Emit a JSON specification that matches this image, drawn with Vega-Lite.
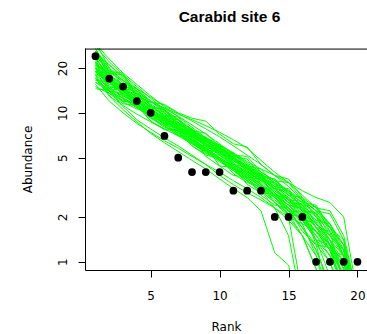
{
"$schema": "https://vega.github.io/schema/vega-lite/v6.json",
"autosize": {"type": "none"},
"padding": {"left": 85, "top": 48, "right": 0, "bottom": 64},
"width": 282,
"height": 222,
"title": {"text": "Carabid site 6", "font": "Liberation Sans", "fontSize": 15.5, "fontWeight": "bold", "color": "black", "anchor": "middle", "baseline": "alphabetic", "offset": 11, "dx": 3.5},
"config": {"view": {"stroke": null}, "axis": {"grid": false}},
"datasets": {
"obs": [
{"r":1,"v":24},{"r":2,"v":17},{"r":3,"v":15},{"r":4,"v":12},{"r":5,"v":10},{"r":6,"v":7},{"r":7,"v":5},{"r":8,"v":4},{"r":9,"v":4},{"r":10,"v":4},{"r":11,"v":3},{"r":12,"v":3},{"r":13,"v":3},{"r":14,"v":2},{"r":15,"v":2},{"r":16,"v":2},{"r":17,"v":1},{"r":18,"v":1},{"r":19,"v":1},{"r":20,"v":1}
],
"sims": [
{"s":1,"r":1,"v":27},{"s":1,"r":2,"v":19},{"s":1,"r":3,"v":18.5},{"s":1,"r":4,"v":13},{"s":1,"r":5,"v":11},{"s":1,"r":6,"v":10.5},{"s":1,"r":7,"v":8.2},{"s":1,"r":8,"v":7},{"s":1,"r":9,"v":6.8},{"s":1,"r":10,"v":5.2},{"s":1,"r":11,"v":4.5},{"s":1,"r":12,"v":4.3},{"s":1,"r":13,"v":3.3},{"s":1,"r":14,"v":2.8},{"s":1,"r":15,"v":2.7},{"s":1,"r":16,"v":1.9},{"s":1,"r":17,"v":1.4},{"s":1,"r":18,"v":1.3},{"s":1,"r":19,"v":0.6},{"s":1,"r":20,"v":0.2},
{"s":2,"r":1,"v":22},{"s":2,"r":2,"v":17},{"s":2,"r":3,"v":14},{"s":2,"r":4,"v":13.5},{"s":2,"r":5,"v":10.5},{"s":2,"r":6,"v":9.2},{"s":2,"r":7,"v":8},{"s":2,"r":8,"v":7},{"s":2,"r":9,"v":6.2},{"s":2,"r":10,"v":5.4},{"s":2,"r":11,"v":4.8},{"s":2,"r":12,"v":4.2},{"s":2,"r":13,"v":3.6},{"s":2,"r":14,"v":3.1},{"s":2,"r":15,"v":2.6},{"s":2,"r":16,"v":2.1},{"s":2,"r":17,"v":1.6},{"s":2,"r":18,"v":1.2},{"s":2,"r":19,"v":0.8},{"s":2,"r":20,"v":0.3},
{"s":3,"r":1,"v":18},{"s":3,"r":2,"v":17.5},{"s":3,"r":3,"v":13},{"s":3,"r":4,"v":11.5},{"s":3,"r":5,"v":11},{"s":3,"r":6,"v":8.8},{"s":3,"r":7,"v":7.6},{"s":3,"r":8,"v":7.4},{"s":3,"r":9,"v":6},{"s":3,"r":10,"v":5.3},{"s":3,"r":11,"v":5.1},{"s":3,"r":12,"v":4},{"s":3,"r":13,"v":3.5},{"s":3,"r":14,"v":3.4},{"s":3,"r":15,"v":2.6},{"s":3,"r":16,"v":2.2},{"s":3,"r":17,"v":2.1},{"s":3,"r":18,"v":1.3},{"s":3,"r":19,"v":0.9},{"s":3,"r":20,"v":0.4},
{"s":4,"r":1,"v":30},{"s":4,"r":2,"v":20},{"s":4,"r":3,"v":15},{"s":4,"r":4,"v":12},{"s":4,"r":5,"v":10},{"s":4,"r":6,"v":8.5},{"s":4,"r":7,"v":7.2},{"s":4,"r":8,"v":6.3},{"s":4,"r":9,"v":5.5},{"s":4,"r":10,"v":4.8},{"s":4,"r":11,"v":4.2},{"s":4,"r":12,"v":3.6},{"s":4,"r":13,"v":3.1},{"s":4,"r":14,"v":2.6},{"s":4,"r":15,"v":2.2},{"s":4,"r":16,"v":1.7},{"s":4,"r":17,"v":1.2},{"s":4,"r":18,"v":0.7},{"s":4,"r":19,"v":0.3},{"s":4,"r":20,"v":0.1},
{"s":5,"r":1,"v":15},{"s":5,"r":2,"v":13.5},{"s":5,"r":3,"v":12},{"s":5,"r":4,"v":11.5},{"s":5,"r":5,"v":9.2},{"s":5,"r":6,"v":8.9},{"s":5,"r":7,"v":8.6},{"s":5,"r":8,"v":7},{"s":5,"r":9,"v":6.4},{"s":5,"r":10,"v":6.1},{"s":5,"r":11,"v":5},{"s":5,"r":12,"v":4.4},{"s":5,"r":13,"v":4.2},{"s":5,"r":14,"v":3.3},{"s":5,"r":15,"v":2.8},{"s":5,"r":16,"v":2.7},{"s":5,"r":17,"v":2},{"s":5,"r":18,"v":1.6},{"s":5,"r":19,"v":1.1},{"s":5,"r":20,"v":0.5},
{"s":6,"r":1,"v":24},{"s":6,"r":2,"v":16},{"s":6,"r":3,"v":13.5},{"s":6,"r":4,"v":11.5},{"s":6,"r":5,"v":10},{"s":6,"r":6,"v":8.7},{"s":6,"r":7,"v":7.5},{"s":6,"r":8,"v":6.5},{"s":6,"r":9,"v":5.8},{"s":6,"r":10,"v":5},{"s":6,"r":11,"v":4.4},{"s":6,"r":12,"v":3.8},{"s":6,"r":13,"v":3.2},{"s":6,"r":14,"v":2.7},{"s":6,"r":15,"v":2.1},{"s":6,"r":16,"v":1.5},{"s":6,"r":17,"v":0.9},{"s":6,"r":18,"v":0.4},{"s":6,"r":19,"v":0.2},{"s":6,"r":20,"v":0.1},
{"s":7,"r":1,"v":20},{"s":7,"r":2,"v":15.5},{"s":7,"r":3,"v":15},{"s":7,"r":4,"v":11.2},{"s":7,"r":5,"v":9.6},{"s":7,"r":6,"v":8.4},{"s":7,"r":7,"v":8.2},{"s":7,"r":8,"v":6.5},{"s":7,"r":9,"v":5.6},{"s":7,"r":10,"v":5.4},{"s":7,"r":11,"v":4.3},{"s":7,"r":12,"v":3.7},{"s":7,"r":13,"v":3.6},{"s":7,"r":14,"v":2.8},{"s":7,"r":15,"v":2.4},{"s":7,"r":16,"v":2.3},{"s":7,"r":17,"v":1.7},{"s":7,"r":18,"v":1.4},{"s":7,"r":19,"v":1.1},{"s":7,"r":20,"v":0.5},
{"s":8,"r":1,"v":26},{"s":8,"r":2,"v":21},{"s":8,"r":3,"v":17},{"s":8,"r":4,"v":14},{"s":8,"r":5,"v":12},{"s":8,"r":6,"v":10.5},{"s":8,"r":7,"v":9},{"s":8,"r":8,"v":7.8},{"s":8,"r":9,"v":6.7},{"s":8,"r":10,"v":5.8},{"s":8,"r":11,"v":5},{"s":8,"r":12,"v":4.3},{"s":8,"r":13,"v":3.7},{"s":8,"r":14,"v":3.1},{"s":8,"r":15,"v":2.5},{"s":8,"r":16,"v":2},{"s":8,"r":17,"v":1.4},{"s":8,"r":18,"v":0.8},{"s":8,"r":19,"v":0.3},{"s":8,"r":20,"v":0.1},
{"s":9,"r":1,"v":17},{"s":9,"r":2,"v":14},{"s":9,"r":3,"v":13.5},{"s":9,"r":4,"v":11},{"s":9,"r":5,"v":9.5},{"s":9,"r":6,"v":9.2},{"s":9,"r":7,"v":7.6},{"s":9,"r":8,"v":7.3},{"s":9,"r":9,"v":6.2},{"s":9,"r":10,"v":5.5},{"s":9,"r":11,"v":5.3},{"s":9,"r":12,"v":4.3},{"s":9,"r":13,"v":3.8},{"s":9,"r":14,"v":3.6},{"s":9,"r":15,"v":2.9},{"s":9,"r":16,"v":2.5},{"s":9,"r":17,"v":2.4},{"s":9,"r":18,"v":1.7},{"s":9,"r":19,"v":1.3},{"s":9,"r":20,"v":0.6},
{"s":10,"r":1,"v":21},{"s":10,"r":2,"v":18},{"s":10,"r":3,"v":15},{"s":10,"r":4,"v":12.5},{"s":10,"r":5,"v":10.5},{"s":10,"r":6,"v":9},{"s":10,"r":7,"v":7.8},{"s":10,"r":8,"v":6.7},{"s":10,"r":9,"v":5.8},{"s":10,"r":10,"v":5},{"s":10,"r":11,"v":4.3},{"s":10,"r":12,"v":3.7},{"s":10,"r":13,"v":3.2},{"s":10,"r":14,"v":2.7},{"s":10,"r":15,"v":2.2},{"s":10,"r":16,"v":1.7},{"s":10,"r":17,"v":1.2},{"s":10,"r":18,"v":0.7},{"s":10,"r":19,"v":0.3},{"s":10,"r":20,"v":0.1},
{"s":11,"r":1,"v":19},{"s":11,"r":2,"v":14},{"s":11,"r":3,"v":12},{"s":11,"r":4,"v":11.8},{"s":11,"r":5,"v":9.2},{"s":11,"r":6,"v":8.2},{"s":11,"r":7,"v":8},{"s":11,"r":8,"v":6.5},{"s":11,"r":9,"v":5.8},{"s":11,"r":10,"v":5.7},{"s":11,"r":11,"v":4.5},{"s":11,"r":12,"v":4},{"s":11,"r":13,"v":3.9},{"s":11,"r":14,"v":3},{"s":11,"r":15,"v":2.5},{"s":11,"r":16,"v":2.4},{"s":11,"r":17,"v":1.7},{"s":11,"r":18,"v":1.3},{"s":11,"r":19,"v":0.8},{"s":11,"r":20,"v":0.3},
{"s":12,"r":1,"v":28},{"s":12,"r":2,"v":22},{"s":12,"r":3,"v":18},{"s":12,"r":4,"v":15},{"s":12,"r":5,"v":12.5},{"s":12,"r":6,"v":10.5},{"s":12,"r":7,"v":9},{"s":12,"r":8,"v":7.7},{"s":12,"r":9,"v":6.6},{"s":12,"r":10,"v":5.6},{"s":12,"r":11,"v":4.8},{"s":12,"r":12,"v":4.1},{"s":12,"r":13,"v":3.5},{"s":12,"r":14,"v":2.9},{"s":12,"r":15,"v":2.4},{"s":12,"r":16,"v":1.9},{"s":12,"r":17,"v":1.4},{"s":12,"r":18,"v":1},{"s":12,"r":19,"v":0.5},{"s":12,"r":20,"v":0.2},
{"s":13,"r":1,"v":16},{"s":13,"r":2,"v":14.5},{"s":13,"r":3,"v":13},{"s":13,"r":4,"v":11.8},{"s":13,"r":5,"v":10.5},{"s":13,"r":6,"v":9.4},{"s":13,"r":7,"v":8.4},{"s":13,"r":8,"v":7.5},{"s":13,"r":9,"v":6.7},{"s":13,"r":10,"v":6},{"s":13,"r":11,"v":5.3},{"s":13,"r":12,"v":4.6},{"s":13,"r":13,"v":4},{"s":13,"r":14,"v":3.5},{"s":13,"r":15,"v":3},{"s":13,"r":16,"v":2.6},{"s":13,"r":17,"v":2.2},{"s":13,"r":18,"v":1.8},{"s":13,"r":19,"v":1.3},{"s":13,"r":20,"v":0.5},
{"s":14,"r":1,"v":23},{"s":14,"r":2,"v":17.5},{"s":14,"r":3,"v":14.5},{"s":14,"r":4,"v":14},{"s":14,"r":5,"v":10.6},{"s":14,"r":6,"v":9.2},{"s":14,"r":7,"v":9},{"s":14,"r":8,"v":7},{"s":14,"r":9,"v":6.1},{"s":14,"r":10,"v":6},{"s":14,"r":11,"v":4.6},{"s":14,"r":12,"v":4},{"s":14,"r":13,"v":3.9},{"s":14,"r":14,"v":2.9},{"s":14,"r":15,"v":2.4},{"s":14,"r":16,"v":2.3},{"s":14,"r":17,"v":1.3},{"s":14,"r":18,"v":0.6},{"s":14,"r":19,"v":0.2},{"s":14,"r":20,"v":0.1},
{"s":15,"r":1,"v":20},{"s":15,"r":2,"v":16.5},{"s":15,"r":3,"v":14},{"s":15,"r":4,"v":12},{"s":15,"r":5,"v":10.3},{"s":15,"r":6,"v":8.9},{"s":15,"r":7,"v":7.7},{"s":15,"r":8,"v":6.6},{"s":15,"r":9,"v":5.7},{"s":15,"r":10,"v":4.9},{"s":15,"r":11,"v":4.2},{"s":15,"r":12,"v":3.6},{"s":15,"r":13,"v":3.1},{"s":15,"r":14,"v":2.7},{"s":15,"r":15,"v":2.3},{"s":15,"r":16,"v":1.9},{"s":15,"r":17,"v":1.6},{"s":15,"r":18,"v":1.3},{"s":15,"r":19,"v":1},{"s":15,"r":20,"v":0.4},
{"s":16,"r":1,"v":25},{"s":16,"r":2,"v":18},{"s":16,"r":3,"v":14},{"s":16,"r":4,"v":11.5},{"s":16,"r":5,"v":9.8},{"s":16,"r":6,"v":8.4},{"s":16,"r":7,"v":7.3},{"s":16,"r":8,"v":6.4},{"s":16,"r":9,"v":5.6},{"s":16,"r":10,"v":4.9},{"s":16,"r":11,"v":4.3},{"s":16,"r":12,"v":3.8},{"s":16,"r":13,"v":3.3},{"s":16,"r":14,"v":2.8},{"s":16,"r":15,"v":2.4},{"s":16,"r":16,"v":2},{"s":16,"r":17,"v":1.6},{"s":16,"r":18,"v":1.2},{"s":16,"r":19,"v":0.7},{"s":16,"r":20,"v":0.3},
{"s":17,"r":1,"v":18.5},{"s":17,"r":2,"v":16},{"s":17,"r":3,"v":15.5},{"s":17,"r":4,"v":12.5},{"s":17,"r":5,"v":11},{"s":17,"r":6,"v":10.5},{"s":17,"r":7,"v":8.6},{"s":17,"r":8,"v":7.6},{"s":17,"r":9,"v":7.3},{"s":17,"r":10,"v":5.9},{"s":17,"r":11,"v":5.1},{"s":17,"r":12,"v":4.9},{"s":17,"r":13,"v":3.8},{"s":17,"r":14,"v":3.2},{"s":17,"r":15,"v":3.1},{"s":17,"r":16,"v":2.2},{"s":17,"r":17,"v":1.7},{"s":17,"r":18,"v":1.6},{"s":17,"r":19,"v":0.7},{"s":17,"r":20,"v":0.3},
{"s":18,"r":1,"v":22},{"s":18,"r":2,"v":15},{"s":18,"r":3,"v":12.5},{"s":18,"r":4,"v":10.8},{"s":18,"r":5,"v":9.4},{"s":18,"r":6,"v":8.2},{"s":18,"r":7,"v":7.1},{"s":18,"r":8,"v":6.2},{"s":18,"r":9,"v":5.4},{"s":18,"r":10,"v":4.7},{"s":18,"r":11,"v":4.1},{"s":18,"r":12,"v":3.5},{"s":18,"r":13,"v":3},{"s":18,"r":14,"v":2.5},{"s":18,"r":15,"v":2.1},{"s":18,"r":16,"v":1.7},{"s":18,"r":17,"v":1.3},{"s":18,"r":18,"v":1},{"s":18,"r":19,"v":0.6},{"s":18,"r":20,"v":0.2},
{"s":19,"r":1,"v":14.5},{"s":19,"r":2,"v":14.2},{"s":19,"r":3,"v":11.8},{"s":19,"r":4,"v":10.6},{"s":19,"r":5,"v":10.4},{"s":19,"r":6,"v":8.6},{"s":19,"r":7,"v":7.8},{"s":19,"r":8,"v":7.7},{"s":19,"r":9,"v":6.2},{"s":19,"r":10,"v":5.5},{"s":19,"r":11,"v":5.4},{"s":19,"r":12,"v":4.2},{"s":19,"r":13,"v":3.7},{"s":19,"r":14,"v":3.6},{"s":19,"r":15,"v":2.8},{"s":19,"r":16,"v":2.4},{"s":19,"r":17,"v":2.35},{"s":19,"r":18,"v":1.6},{"s":19,"r":19,"v":1.2},{"s":19,"r":20,"v":0.5},
{"s":20,"r":1,"v":29},{"s":20,"r":2,"v":23},{"s":20,"r":3,"v":18.5},{"s":20,"r":4,"v":15.5},{"s":20,"r":5,"v":13},{"s":20,"r":6,"v":11},{"s":20,"r":7,"v":9.4},{"s":20,"r":8,"v":8},{"s":20,"r":9,"v":6.8},{"s":20,"r":10,"v":5.8},{"s":20,"r":11,"v":4.9},{"s":20,"r":12,"v":4.1},{"s":20,"r":13,"v":3.4},{"s":20,"r":14,"v":2.8},{"s":20,"r":15,"v":2.0},{"s":20,"r":16,"v":0.6},{"s":20,"r":17,"v":0.3},{"s":20,"r":18,"v":0.2},{"s":20,"r":19,"v":0.1},{"s":20,"r":20,"v":0.1},
{"s":21,"r":1,"v":21},{"s":21,"r":2,"v":16},{"s":21,"r":3,"v":13.5},{"s":21,"r":4,"v":11.8},{"s":21,"r":5,"v":10.4},{"s":21,"r":6,"v":9.2},{"s":21,"r":7,"v":8.1},{"s":21,"r":8,"v":7.2},{"s":21,"r":9,"v":6.4},{"s":21,"r":10,"v":5.7},{"s":21,"r":11,"v":5},{"s":21,"r":12,"v":4.4},{"s":21,"r":13,"v":3.9},{"s":21,"r":14,"v":3.4},{"s":21,"r":15,"v":2.9},{"s":21,"r":16,"v":2.5},{"s":21,"r":17,"v":2.1},{"s":21,"r":18,"v":1.7},{"s":21,"r":19,"v":1.3},{"s":21,"r":20,"v":0.5},
{"s":22,"r":1,"v":19.5},{"s":22,"r":2,"v":17},{"s":22,"r":3,"v":15},{"s":22,"r":4,"v":14.6},{"s":22,"r":5,"v":11.2},{"s":22,"r":6,"v":9.6},{"s":22,"r":7,"v":9.4},{"s":22,"r":8,"v":7},{"s":22,"r":9,"v":6},{"s":22,"r":10,"v":5.9},{"s":22,"r":11,"v":4.4},{"s":22,"r":12,"v":3.8},{"s":22,"r":13,"v":3.7},{"s":22,"r":14,"v":2.7},{"s":22,"r":15,"v":2.2},{"s":22,"r":16,"v":2.15},{"s":22,"r":17,"v":1.4},{"s":22,"r":18,"v":1.1},{"s":22,"r":19,"v":0.7},{"s":22,"r":20,"v":0.2},
{"s":23,"r":1,"v":24},{"s":23,"r":2,"v":19},{"s":23,"r":3,"v":16},{"s":23,"r":4,"v":13.5},{"s":23,"r":5,"v":11.3},{"s":23,"r":6,"v":9.5},{"s":23,"r":7,"v":8},{"s":23,"r":8,"v":6.8},{"s":23,"r":9,"v":5.8},{"s":23,"r":10,"v":5},{"s":23,"r":11,"v":4.3},{"s":23,"r":12,"v":3.7},{"s":23,"r":13,"v":3.2},{"s":23,"r":14,"v":2.8},{"s":23,"r":15,"v":2.4},{"s":23,"r":16,"v":2},{"s":23,"r":17,"v":1.6},{"s":23,"r":18,"v":1.2},{"s":23,"r":19,"v":0.8},{"s":23,"r":20,"v":0.3},
{"s":24,"r":1,"v":17.5},{"s":24,"r":2,"v":13.5},{"s":24,"r":3,"v":11.5},{"s":24,"r":4,"v":11.2},{"s":24,"r":5,"v":8.8},{"s":24,"r":6,"v":7.8},{"s":24,"r":7,"v":7.7},{"s":24,"r":8,"v":6.3},{"s":24,"r":9,"v":5.6},{"s":24,"r":10,"v":5.5},{"s":24,"r":11,"v":4.4},{"s":24,"r":12,"v":3.9},{"s":24,"r":13,"v":3.8},{"s":24,"r":14,"v":3},{"s":24,"r":15,"v":2.6},{"s":24,"r":16,"v":2.55},{"s":24,"r":17,"v":1.8},{"s":24,"r":18,"v":1.4},{"s":24,"r":19,"v":1},{"s":24,"r":20,"v":0.4},
{"s":25,"r":1,"v":26},{"s":25,"r":2,"v":20},{"s":25,"r":3,"v":16.5},{"s":25,"r":4,"v":13.5},{"s":25,"r":5,"v":11.2},{"s":25,"r":6,"v":9.4},{"s":25,"r":7,"v":8},{"s":25,"r":8,"v":6.9},{"s":25,"r":9,"v":6},{"s":25,"r":10,"v":5.2},{"s":25,"r":11,"v":4.5},{"s":25,"r":12,"v":3.9},{"s":25,"r":13,"v":3.3},{"s":25,"r":14,"v":2.8},{"s":25,"r":15,"v":2.3},{"s":25,"r":16,"v":1.8},{"s":25,"r":17,"v":1.1},{"s":25,"r":18,"v":0.5},{"s":25,"r":19,"v":0.2},{"s":25,"r":20,"v":0.1},
{"s":26,"r":1,"v":20.5},{"s":26,"r":2,"v":15},{"s":26,"r":3,"v":14.2},{"s":26,"r":4,"v":11},{"s":26,"r":5,"v":9.7},{"s":26,"r":6,"v":9.3},{"s":26,"r":7,"v":7.7},{"s":26,"r":8,"v":6.9},{"s":26,"r":9,"v":6.7},{"s":26,"r":10,"v":5.4},{"s":26,"r":11,"v":4.7},{"s":26,"r":12,"v":4.5},{"s":26,"r":13,"v":3.6},{"s":26,"r":14,"v":3.1},{"s":26,"r":15,"v":3},{"s":26,"r":16,"v":2.3},{"s":26,"r":17,"v":1.9},{"s":26,"r":18,"v":1.8},{"s":26,"r":19,"v":1.1},{"s":26,"r":20,"v":0.4},
{"s":27,"r":1,"v":23},{"s":27,"r":2,"v":18},{"s":27,"r":3,"v":15.5},{"s":27,"r":4,"v":13.3},{"s":27,"r":5,"v":11.5},{"s":27,"r":6,"v":9.9},{"s":27,"r":7,"v":8.5},{"s":27,"r":8,"v":7.3},{"s":27,"r":9,"v":6.3},{"s":27,"r":10,"v":5.4},{"s":27,"r":11,"v":4.6},{"s":27,"r":12,"v":3.9},{"s":27,"r":13,"v":3.3},{"s":27,"r":14,"v":2.8},{"s":27,"r":15,"v":2.3},{"s":27,"r":16,"v":1.9},{"s":27,"r":17,"v":1.5},{"s":27,"r":18,"v":1.1},{"s":27,"r":19,"v":0.7},{"s":27,"r":20,"v":0.2},
{"s":28,"r":1,"v":16.5},{"s":28,"r":2,"v":16.2},{"s":28,"r":3,"v":12.3},{"s":28,"r":4,"v":10.9},{"s":28,"r":5,"v":10.7},{"s":28,"r":6,"v":8.7},{"s":28,"r":7,"v":7.8},{"s":28,"r":8,"v":7.6},{"s":28,"r":9,"v":6.1},{"s":28,"r":10,"v":5.3},{"s":28,"r":11,"v":5.2},{"s":28,"r":12,"v":4},{"s":28,"r":13,"v":3.5},{"s":28,"r":14,"v":3.4},{"s":28,"r":15,"v":2.6},{"s":28,"r":16,"v":2.2},{"s":28,"r":17,"v":2.15},{"s":28,"r":18,"v":1.5},{"s":28,"r":19,"v":1.2},{"s":28,"r":20,"v":0.5},
{"s":29,"r":1,"v":27},{"s":29,"r":2,"v":17},{"s":29,"r":3,"v":14},{"s":29,"r":4,"v":12},{"s":29,"r":5,"v":10.3},{"s":29,"r":6,"v":9},{"s":29,"r":7,"v":7.9},{"s":29,"r":8,"v":7},{"s":29,"r":9,"v":6.2},{"s":29,"r":10,"v":5.5},{"s":29,"r":11,"v":4.8},{"s":29,"r":12,"v":4.2},{"s":29,"r":13,"v":3.6},{"s":29,"r":14,"v":3.1},{"s":29,"r":15,"v":2.6},{"s":29,"r":16,"v":2.2},{"s":29,"r":17,"v":1.8},{"s":29,"r":18,"v":1.4},{"s":29,"r":19,"v":0.9},{"s":29,"r":20,"v":0.3},
{"s":30,"r":1,"v":19},{"s":30,"r":2,"v":16},{"s":30,"r":3,"v":13.8},{"s":30,"r":4,"v":12},{"s":30,"r":5,"v":10.5},{"s":30,"r":6,"v":9.3},{"s":30,"r":7,"v":8.3},{"s":30,"r":8,"v":7.4},{"s":30,"r":9,"v":6.5},{"s":30,"r":10,"v":5.7},{"s":30,"r":11,"v":5},{"s":30,"r":12,"v":4.3},{"s":30,"r":13,"v":3.7},{"s":30,"r":14,"v":3.2},{"s":30,"r":15,"v":2.7},{"s":30,"r":16,"v":2.3},{"s":30,"r":17,"v":1.9},{"s":30,"r":18,"v":1.5},{"s":30,"r":19,"v":1.1},{"s":30,"r":20,"v":0.4},
{"s":31,"r":1,"v":22.5},{"s":31,"r":2,"v":16.5},{"s":31,"r":3,"v":13.2},{"s":31,"r":4,"v":12.5},{"s":31,"r":5,"v":9.3},{"s":31,"r":6,"v":8},{"s":31,"r":7,"v":7.6},{"s":31,"r":8,"v":6},{"s":31,"r":9,"v":5.2},{"s":31,"r":10,"v":5},{"s":31,"r":11,"v":3.9},{"s":31,"r":12,"v":3.4},{"s":31,"r":13,"v":3.2},{"s":31,"r":14,"v":2.5},{"s":31,"r":15,"v":2.1},{"s":31,"r":16,"v":2},{"s":31,"r":17,"v":1.5},{"s":31,"r":18,"v":1.2},{"s":31,"r":19,"v":1.1},{"s":31,"r":20,"v":0.4},
{"s":32,"r":1,"v":25},{"s":32,"r":2,"v":21},{"s":32,"r":3,"v":17.5},{"s":32,"r":4,"v":14.5},{"s":32,"r":5,"v":12},{"s":32,"r":6,"v":10},{"s":32,"r":7,"v":8.6},{"s":32,"r":8,"v":7.4},{"s":32,"r":9,"v":6.4},{"s":32,"r":10,"v":5.6},{"s":32,"r":11,"v":4.9},{"s":32,"r":12,"v":4.3},{"s":32,"r":13,"v":3.7},{"s":32,"r":14,"v":3.2},{"s":32,"r":15,"v":2.7},{"s":32,"r":16,"v":2.2},{"s":32,"r":17,"v":1.7},{"s":32,"r":18,"v":1.2},{"s":32,"r":19,"v":0.6},{"s":32,"r":20,"v":0.2},
{"s":33,"r":1,"v":18},{"s":33,"r":2,"v":14.5},{"s":33,"r":3,"v":14.2},{"s":33,"r":4,"v":11},{"s":33,"r":5,"v":9.8},{"s":33,"r":6,"v":9.6},{"s":33,"r":7,"v":7.9},{"s":33,"r":8,"v":7.1},{"s":33,"r":9,"v":6.9},{"s":33,"r":10,"v":5.8},{"s":33,"r":11,"v":5.2},{"s":33,"r":12,"v":5.1},{"s":33,"r":13,"v":4},{"s":33,"r":14,"v":3.5},{"s":33,"r":15,"v":3.4},{"s":33,"r":16,"v":2.6},{"s":33,"r":17,"v":2.2},{"s":33,"r":18,"v":2.1},{"s":33,"r":19,"v":1.4},{"s":33,"r":20,"v":0.5},
{"s":34,"r":1,"v":21.5},{"s":34,"r":2,"v":17},{"s":34,"r":3,"v":14.3},{"s":34,"r":4,"v":12.2},{"s":34,"r":5,"v":10.5},{"s":34,"r":6,"v":9},{"s":34,"r":7,"v":7.7},{"s":34,"r":8,"v":6.6},{"s":34,"r":9,"v":5.6},{"s":34,"r":10,"v":4.8},{"s":34,"r":11,"v":4.1},{"s":34,"r":12,"v":3.5},{"s":34,"r":13,"v":3},{"s":34,"r":14,"v":2.5},{"s":34,"r":15,"v":2},{"s":34,"r":16,"v":1.5},{"s":34,"r":17,"v":0.9},{"s":34,"r":18,"v":0.4},{"s":34,"r":19,"v":0.2},{"s":34,"r":20,"v":0.1},
{"s":35,"r":1,"v":20},{"s":35,"r":2,"v":14.5},{"s":35,"r":3,"v":12},{"s":35,"r":4,"v":11.8},{"s":35,"r":5,"v":8.8},{"s":35,"r":6,"v":7.7},{"s":35,"r":7,"v":7.6},{"s":35,"r":8,"v":6},{"s":35,"r":9,"v":5.3},{"s":35,"r":10,"v":5.2},{"s":35,"r":11,"v":4.2},{"s":35,"r":12,"v":3.7},{"s":35,"r":13,"v":3.6},{"s":35,"r":14,"v":2.9},{"s":35,"r":15,"v":2.5},{"s":35,"r":16,"v":2.45},{"s":35,"r":17,"v":1.8},{"s":35,"r":18,"v":1.5},{"s":35,"r":19,"v":1.2},{"s":35,"r":20,"v":0.5},
{"s":36,"r":1,"v":24.5},{"s":36,"r":2,"v":19.5},{"s":36,"r":3,"v":16.5},{"s":36,"r":4,"v":14},{"s":36,"r":5,"v":12},{"s":36,"r":6,"v":10.3},{"s":36,"r":7,"v":8.9},{"s":36,"r":8,"v":7.7},{"s":36,"r":9,"v":6.7},{"s":36,"r":10,"v":5.8},{"s":36,"r":11,"v":5},{"s":36,"r":12,"v":4.3},{"s":36,"r":13,"v":3.7},{"s":36,"r":14,"v":3.1},{"s":36,"r":15,"v":2.6},{"s":36,"r":16,"v":2.1},{"s":36,"r":17,"v":1.7},{"s":36,"r":18,"v":1.3},{"s":36,"r":19,"v":0.9},{"s":36,"r":20,"v":0.3},
{"s":37,"r":1,"v":19},{"s":37,"r":2,"v":16.5},{"s":37,"r":3,"v":14.5},{"s":37,"r":4,"v":13},{"s":37,"r":5,"v":11.8},{"s":37,"r":6,"v":10.8},{"s":37,"r":7,"v":9.8},{"s":37,"r":8,"v":9},{"s":37,"r":9,"v":8.2},{"s":37,"r":10,"v":7.4},{"s":37,"r":11,"v":6.6},{"s":37,"r":12,"v":5.8},{"s":37,"r":13,"v":4.8},{"s":37,"r":14,"v":4},{"s":37,"r":15,"v":3.4},{"s":37,"r":16,"v":2.8},{"s":37,"r":17,"v":2.3},{"s":37,"r":18,"v":1.8},{"s":37,"r":19,"v":1.2},{"s":37,"r":20,"v":0.5},
{"s":38,"r":1,"v":17},{"s":38,"r":2,"v":15},{"s":38,"r":3,"v":14.5},{"s":38,"r":4,"v":12.8},{"s":38,"r":5,"v":11.8},{"s":38,"r":6,"v":11.4},{"s":38,"r":7,"v":10},{"s":38,"r":8,"v":9.2},{"s":38,"r":9,"v":8.8},{"s":38,"r":10,"v":7.2},{"s":38,"r":11,"v":6.2},{"s":38,"r":12,"v":5.9},{"s":38,"r":13,"v":4.5},{"s":38,"r":14,"v":3.8},{"s":38,"r":15,"v":3.6},{"s":38,"r":16,"v":2.7},{"s":38,"r":17,"v":2.3},{"s":38,"r":18,"v":2.2},{"s":38,"r":19,"v":1.5},{"s":38,"r":20,"v":0.6},
{"s":39,"r":1,"v":22},{"s":39,"r":2,"v":14},{"s":39,"r":3,"v":11},{"s":39,"r":4,"v":9},{"s":39,"r":5,"v":7.8},{"s":39,"r":6,"v":6.8},{"s":39,"r":7,"v":6},{"s":39,"r":8,"v":5.2},{"s":39,"r":9,"v":4.5},{"s":39,"r":10,"v":3.8},{"s":39,"r":11,"v":3.3},{"s":39,"r":12,"v":2.9},{"s":39,"r":13,"v":2.6},{"s":39,"r":14,"v":2.3},{"s":39,"r":15,"v":2},{"s":39,"r":16,"v":1.8},{"s":39,"r":17,"v":1.6},{"s":39,"r":18,"v":1.3},{"s":39,"r":19,"v":1},{"s":39,"r":20,"v":0.4},
{"s":40,"r":1,"v":18},{"s":40,"r":2,"v":13},{"s":40,"r":3,"v":10.5},{"s":40,"r":4,"v":8.7},{"s":40,"r":5,"v":7.3},{"s":40,"r":6,"v":6.3},{"s":40,"r":7,"v":5.5},{"s":40,"r":8,"v":4.8},{"s":40,"r":9,"v":4.2},{"s":40,"r":10,"v":3.6},{"s":40,"r":11,"v":3.1},{"s":40,"r":12,"v":2.7},{"s":40,"r":13,"v":2.2},{"s":40,"r":14,"v":1.15},{"s":40,"r":15,"v":0.95},{"s":40,"r":16,"v":0.4},{"s":40,"r":17,"v":0.2},{"s":40,"r":18,"v":0.1},{"s":40,"r":19,"v":0.1},{"s":40,"r":20,"v":0.1},
{"s":41,"r":1,"v":16},{"s":41,"r":2,"v":14},{"s":41,"r":3,"v":12.5},{"s":41,"r":4,"v":11.3},{"s":41,"r":5,"v":10.2},{"s":41,"r":6,"v":9.2},{"s":41,"r":7,"v":8.3},{"s":41,"r":8,"v":7.5},{"s":41,"r":9,"v":6.8},{"s":41,"r":10,"v":6.1},{"s":41,"r":11,"v":5.4},{"s":41,"r":12,"v":4.7},{"s":41,"r":13,"v":4.2},{"s":41,"r":14,"v":3.8},{"s":41,"r":15,"v":3.4},{"s":41,"r":16,"v":3},{"s":41,"r":17,"v":2.7},{"s":41,"r":18,"v":2.5},{"s":41,"r":19,"v":2},{"s":41,"r":20,"v":0.6},
{"s":42,"r":1,"v":20},{"s":42,"r":2,"v":17.5},{"s":42,"r":3,"v":15.5},{"s":42,"r":4,"v":13.5},{"s":42,"r":5,"v":12},{"s":42,"r":6,"v":10.7},{"s":42,"r":7,"v":9.5},{"s":42,"r":8,"v":8.3},{"s":42,"r":9,"v":7.2},{"s":42,"r":10,"v":6.2},{"s":42,"r":11,"v":5.3},{"s":42,"r":12,"v":4.5},{"s":42,"r":13,"v":3.9},{"s":42,"r":14,"v":3.4},{"s":42,"r":15,"v":3},{"s":42,"r":16,"v":2.6},{"s":42,"r":17,"v":2.2},{"s":42,"r":18,"v":1.7},{"s":42,"r":19,"v":1.1},{"s":42,"r":20,"v":0.4},
{"s":43,"r":1,"v":15.5},{"s":43,"r":2,"v":12},{"s":43,"r":3,"v":10},{"s":43,"r":4,"v":8.5},{"s":43,"r":5,"v":7.4},{"s":43,"r":6,"v":6.5},{"s":43,"r":7,"v":5.8},{"s":43,"r":8,"v":5.1},{"s":43,"r":9,"v":4.5},{"s":43,"r":10,"v":4},{"s":43,"r":11,"v":3.5},{"s":43,"r":12,"v":3.1},{"s":43,"r":13,"v":2.7},{"s":43,"r":14,"v":2.3},{"s":43,"r":15,"v":1.9},{"s":43,"r":16,"v":1.5},{"s":43,"r":17,"v":1.1},{"s":43,"r":18,"v":0.6},{"s":43,"r":19,"v":0.2},{"s":43,"r":20,"v":0.1},
{"s":44,"r":1,"v":26},{"s":44,"r":2,"v":18.5},{"s":44,"r":3,"v":18},{"s":44,"r":4,"v":12.5},{"s":44,"r":5,"v":10.5},{"s":44,"r":6,"v":10.2},{"s":44,"r":7,"v":7.4},{"s":44,"r":8,"v":6.2},{"s":44,"r":9,"v":6},{"s":44,"r":10,"v":4.4},{"s":44,"r":11,"v":3.8},{"s":44,"r":12,"v":3.7},{"s":44,"r":13,"v":2.8},{"s":44,"r":14,"v":2.4},{"s":44,"r":15,"v":2.3},{"s":44,"r":16,"v":1.6},{"s":44,"r":17,"v":1.3},{"s":44,"r":18,"v":1.25},{"s":44,"r":19,"v":0.8},{"s":44,"r":20,"v":0.3},
{"s":45,"r":1,"v":21},{"s":45,"r":2,"v":18.5},{"s":45,"r":3,"v":16.5},{"s":45,"r":4,"v":14.5},{"s":45,"r":5,"v":12.7},{"s":45,"r":6,"v":11.2},{"s":45,"r":7,"v":9.9},{"s":45,"r":8,"v":8.8},{"s":45,"r":9,"v":7.8},{"s":45,"r":10,"v":6.9},{"s":45,"r":11,"v":6},{"s":45,"r":12,"v":5.2},{"s":45,"r":13,"v":4.5},{"s":45,"r":14,"v":3.8},{"s":45,"r":15,"v":3.2},{"s":45,"r":16,"v":2.6},{"s":45,"r":17,"v":2},{"s":45,"r":18,"v":1.4},{"s":45,"r":19,"v":0.8},{"s":45,"r":20,"v":0.3},
{"s":46,"r":1,"v":17},{"s":46,"r":2,"v":13},{"s":46,"r":3,"v":11.2},{"s":46,"r":4,"v":9.8},{"s":46,"r":5,"v":8.7},{"s":46,"r":6,"v":7.8},{"s":46,"r":7,"v":7},{"s":46,"r":8,"v":6.2},{"s":46,"r":9,"v":5.5},{"s":46,"r":10,"v":4.8},{"s":46,"r":11,"v":4.1},{"s":46,"r":12,"v":3.5},{"s":46,"r":13,"v":3},{"s":46,"r":14,"v":2.3},{"s":46,"r":15,"v":1.5},{"s":46,"r":16,"v":0.5},{"s":46,"r":17,"v":0.2},{"s":46,"r":18,"v":0.1},{"s":46,"r":19,"v":0.1},{"s":46,"r":20,"v":0.1},
{"s":47,"r":1,"v":23.5},{"s":47,"r":2,"v":17},{"s":47,"r":3,"v":14},{"s":47,"r":4,"v":12.4},{"s":47,"r":5,"v":11},{"s":47,"r":6,"v":9.7},{"s":47,"r":7,"v":8.5},{"s":47,"r":8,"v":7.4},{"s":47,"r":9,"v":6.5},{"s":47,"r":10,"v":5.7},{"s":47,"r":11,"v":5},{"s":47,"r":12,"v":4.4},{"s":47,"r":13,"v":3.8},{"s":47,"r":14,"v":3.3},{"s":47,"r":15,"v":2.8},{"s":47,"r":16,"v":2.4},{"s":47,"r":17,"v":2},{"s":47,"r":18,"v":1.7},{"s":47,"r":19,"v":1.4},{"s":47,"r":20,"v":0.6},
{"s":48,"r":1,"v":19},{"s":48,"r":2,"v":18.6},{"s":48,"r":3,"v":12.7},{"s":48,"r":4,"v":11},{"s":48,"r":5,"v":10.8},{"s":48,"r":6,"v":8.2},{"s":48,"r":7,"v":7},{"s":48,"r":8,"v":6.9},{"s":48,"r":9,"v":5.1},{"s":48,"r":10,"v":4.4},{"s":48,"r":11,"v":4.3},{"s":48,"r":12,"v":3.3},{"s":48,"r":13,"v":2.9},{"s":48,"r":14,"v":2.85},{"s":48,"r":15,"v":2.2},{"s":48,"r":16,"v":1.9},{"s":48,"r":17,"v":1.85},{"s":48,"r":18,"v":1.3},{"s":48,"r":19,"v":0.9},{"s":48,"r":20,"v":0.3}
]
},
"layer": [
{
"data": {"name": "sims"},
"mark": {"type": "line", "color": "#00ff00", "strokeWidth": 1, "clip": true},
"encoding": {
"x": {"field": "r", "type": "quantitative", "scale": {"domain": [0.24, 20.69], "nice": false, "zero": false},
"axis": {"orient": "bottom", "values": [5, 10, 15, 20], "tickSize": 7, "tickColor": "black", "domainColor": "black", "labelFont": "DejaVu Sans", "labelFontSize": 12, "labelColor": "black", "labelPadding": 13, "labelFlush": false, "title": "Rank", "titleFont": "DejaVu Sans", "titleFontSize": 12, "titleFontWeight": "normal", "titleColor": "black", "titlePadding": 20}},
"y": {"field": "v", "type": "quantitative", "scale": {"type": "log", "domain": [0.881, 27.25], "nice": false, "zero": false},
"axis": {"orient": "left", "values": [1, 2, 5, 10, 20], "format": "d", "tickSize": 7, "tickColor": "black", "domainColor": "black", "labelFont": "DejaVu Sans", "labelFontSize": 12, "labelColor": "black", "labelAngle": -90, "labelAlign": "center", "labelBaseline": "bottom", "labelPadding": 8.5, "labelFlush": false, "title": "Abundance", "titleFont": "DejaVu Sans", "titleFontSize": 12, "titleFontWeight": "normal", "titleColor": "black", "titlePadding": 22}},
"detail": {"field": "s", "type": "nominal"}
}
},
{
"data": {"name": "obs"},
"mark": {"type": "circle", "color": "black", "opacity": 1, "size": 60},
"encoding": {
"x": {"field": "r", "type": "quantitative"},
"y": {"field": "v", "type": "quantitative"}
}
},
{
"data": {"values": [{"edge": "top"}]},
"mark": {"type": "rule", "color": "black", "strokeWidth": 1},
"encoding": {"y": {"datum": 26.8}}
}
]
}
